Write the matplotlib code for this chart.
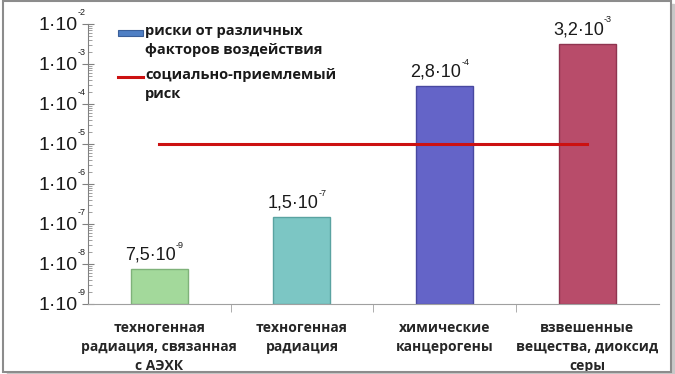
import matplotlib.pyplot as plt
from matplotlib.patches import Rectangle
import matplotlib.ticker as mticker
import matplotlib.transforms as mtrans

categories = ["техногенная\nрадиация, связанная\nс АЭХК",
              "техногенная\nрадиация",
              "химические\nканцерогены",
              "взвешенные\nвещества, диоксид\nсеры"]
risks = [7.5e-9, 1.5e-7, 2.8e-4, 3.2e-3]
risk_mantissa = ["7,5·10", "1,5·10", "2,8·10", "3,2·10"]
risk_exponent = ["-9", "-7", "-4", "-3"]
acceptable = 1e-5
ytick_powers = [-9, -8, -7, -6, -5, -4, -3, -2]
legend_labels = ["риски от различных\nфакторов воздействия",
                 "социально-приемлемый\nриск"]
bar_colors = ["#a3d99b", "#7cc6c4", "#6464c8", "#b84c6a"]
edge_colors = ["#7fb27a", "#5aa3a1", "#4848a0", "#8f3450"]

plt.rcParams['font.family'] = ['Open Sans', 'DejaVu Sans']

fig = plt.figure(figsize=(6.75, 3.74), dpi=100)
fig.patches.append(Rectangle((0.004, 0.006), 0.99, 0.99, transform=fig.transFigure,
                             fill=False, edgecolor="#8c8c8c", linewidth=1.5))
fig.patches.append(Rectangle((0.994, 0.0), 0.004, 0.99, transform=fig.transFigure,
                             color="#c8c8c8", zorder=0))
fig.patches.append(Rectangle((0.01, 0.0), 0.988, 0.006, transform=fig.transFigure,
                             color="#c8c8c8", zorder=0))

ax = fig.add_axes([0.130, 0.187, 0.846, 0.749])
x = list(range(len(categories)))
bottom = 1e-9
ax.bar(x, [r - bottom for r in risks], bottom=bottom, width=0.4,
       color=bar_colors, edgecolor=edge_colors, linewidth=1)

# value labels with small superscript exponents
for xi, r, m, e in zip(x, risks, risk_mantissa, risk_exponent):
    ax.annotate(m, (xi, r), xytext=(12, 4), textcoords="offset points",
                ha="right", va="bottom", fontsize=13, color="#1a1a1a",
                family="Liberation Sans")
    ax.annotate(e, (xi, r), xytext=(12, 14), textcoords="offset points",
                ha="left", va="bottom", fontsize=6.5, color="#1a1a1a",
                family="Liberation Sans")

ax.plot([0, 3], [acceptable, acceptable], color="#cc1111", linewidth=2.2)

ax.set_yscale("log")
ax.set_ylim(1e-9, 1e-2)
ax.set_xlim(-0.5, 3.5)
ax.yaxis.set_major_locator(mticker.FixedLocator([10.0 ** p for p in ytick_powers]))
ax.yaxis.set_minor_locator(mticker.LogLocator(base=10, subs=range(2, 10), numticks=20))
ax.yaxis.set_major_formatter(mticker.NullFormatter())
ax.yaxis.set_minor_formatter(mticker.NullFormatter())
ax.tick_params(axis="y", which="major", direction="inout", length=8, width=0.8,
               color="#808080")
ax.tick_params(axis="y", which="minor", direction="in", length=3, width=0.6, color="#909090")

# y tick labels "1·10" with tiny exponent
ytr = ax.get_yaxis_transform()
for p in ytick_powers:
    v = 10.0 ** p
    ax.text(0, v, "1·10",
            transform=ytr + mtrans.ScaledTranslation(-7.5 / 72, -1 / 72, fig.dpi_scale_trans),
            ha="right", va="center", fontsize=14, color="#1a1a1a", family="Liberation Sans")
    ax.text(0, v, str(p),
            transform=ytr + mtrans.ScaledTranslation(-7.2 / 72, 5 / 72, fig.dpi_scale_trans),
            ha="left", va="bottom", fontsize=6.5, color="#1a1a1a", family="Liberation Sans")

ax.set_xticks(x)
ax.set_xticklabels(categories, fontsize=10, fontweight="bold", color="#262626",
                   linespacing=1.45)
ax.set_xticks([0.5, 1.5, 2.5], minor=True)
ax.tick_params(axis="x", which="major", length=0, pad=12)
ax.tick_params(axis="x", which="minor", length=6, color="#a0a0a0", direction="out")

for s in ["top", "right"]:
    ax.spines[s].set_visible(False)
ax.spines["left"].set_color("#808080")
ax.spines["bottom"].set_color("#a0a0a0")

# legend drawn by hand so that the markers sit at the first text line
fig.patches.append(Rectangle((118 / 675, 1 - 36 / 374), 25 / 675, 6 / 374,
                             transform=fig.transFigure, facecolor="#4f7fc4",
                             edgecolor="#3a5f99", linewidth=0.8))
fig.lines.append(plt.Line2D([118 / 675, 143 / 675], [1 - 77 / 374, 1 - 77 / 374],
                            transform=fig.transFigure, color="#cc1111", linewidth=2.2))
fig.text(145 / 675, 1 - 24 / 374, legend_labels[0], ha="left", va="top",
         fontsize=10.5, fontweight="bold", color="#1a1a1a", linespacing=1.45)
fig.text(145 / 675, 1 - 68 / 374, legend_labels[1], ha="left", va="top",
         fontsize=10.5, fontweight="bold", color="#1a1a1a", linespacing=1.45)

fig.savefig("out.png", dpi=100)
